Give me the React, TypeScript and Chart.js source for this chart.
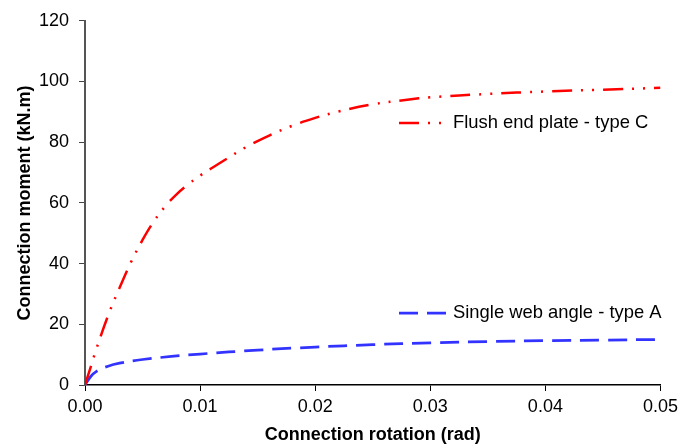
import React, { useEffect, useRef } from "react";
import { Chart, registerables } from "chart.js";

Chart.register(...registerables);

const redX = [0, 0.0005, 0.001, 0.002, 0.003, 0.004, 0.005, 0.006, 0.007, 0.008, 0.009, 0.01, 0.012, 0.014, 0.016, 0.018, 0.02, 0.022, 0.025, 0.028, 0.03, 0.035, 0.04, 0.045, 0.05];
const redY = [0, 6, 12, 22.8, 32, 40.5, 47.8, 54, 59, 63, 66.2, 69, 73.8, 78.4, 82.2, 85.4, 88, 90.1, 92.5, 94, 94.8, 95.9, 96.7, 97.3, 97.9];

const blueX = [0, 0.0005, 0.001, 0.002, 0.003, 0.005, 0.0075, 0.01, 0.015, 0.02, 0.025, 0.03, 0.035, 0.04, 0.045, 0.05];
const blueY = [0, 2.8, 4.5, 6.2, 7.2, 8.4, 9.4, 10.2, 11.5, 12.5, 13.3, 13.9, 14.3, 14.6, 14.8, 15.0];

const seriesNames = ["Flush end plate - type C", "Single web angle - type A"];
const xTitle = "Connection rotation (rad)";
const yTitle = "Connection moment (kN.m)";

const FONT = "'Liberation Sans', Arial, sans-serif";

export default function App() {
  const ref = useRef<HTMLCanvasElement>(null);
  useEffect(() => {
    document.body.style.margin = "0";
    const ctx = ref.current!;
    const redDash = [20, 9, 2, 9, 2, 9];
    const blueDash = [19, 9];
    const overlay = {
      id: "overlay",
      afterDraw(chart: any) {
        const c = chart.ctx;
        const a = chart.chartArea;
        c.save();
        c.fillStyle = "#000";
        c.font = `bold 18px ${FONT}`;
        c.textAlign = "center";
        c.textBaseline = "middle";
        c.fillText(xTitle, (a.left + a.right) / 2, 435);
        c.translate(25, (a.top + a.bottom) / 2);
        c.rotate(-Math.PI / 2);
        c.fillText(yTitle, 0, 0);
        c.restore();
        const entries = [
          { name: seriesNames[0], color: "#FF0000", dash: redDash, width: 2.5, y: 123 },
          { name: seriesNames[1], color: "#3333FF", dash: blueDash, width: 2.75, y: 313 },
        ];
        entries.forEach((e) => {
          c.save();
          c.strokeStyle = e.color;
          c.lineWidth = e.width;
          c.setLineDash(e.dash);
          c.beginPath();
          c.moveTo(399, e.y);
          c.lineTo(448, e.y);
          c.stroke();
          c.setLineDash([]);
          c.fillStyle = "#000";
          c.font = `18.4px ${FONT}`;
          c.textAlign = "left";
          c.textBaseline = "middle";
          c.fillText(e.name, 453, e.y);
          c.restore();
        });
      },
    };
    const chart = new Chart(ctx, {
      type: "line",
      data: {
        datasets: [
          {
            label: seriesNames[0],
            data: redX.map((x, i) => ({ x, y: redY[i] })),
            borderColor: "#FF0000",
            borderWidth: 2.5,
            borderDash: redDash,
            pointRadius: 0,
            tension: 0.4,
            fill: false,
          },
          {
            label: seriesNames[1],
            data: blueX.map((x, i) => ({ x, y: blueY[i] })),
            borderColor: "#3333FF",
            borderWidth: 2.75,
            borderDash: blueDash,
            pointRadius: 0,
            tension: 0.4,
            fill: false,
          },
        ],
      },
      options: {
        responsive: false,
        animation: false,
        layout: { padding: { top: 17, right: 20, left: 0, bottom: 0 } },
        plugins: { legend: { display: false }, tooltip: { enabled: false } },
        scales: {
          x: {
            type: "linear",
            min: 0,
            max: 0.05,
            afterFit: (s: any) => { s.height = 62; },
            ticks: {
              stepSize: 0.01,
              callback: (v: any) => Number(v).toFixed(2),
              color: "#000",
              font: { family: FONT, size: 18 },
              padding: 5,
              maxRotation: 0,
            },
            grid: { drawOnChartArea: false, drawTicks: true, tickLength: 6, color: "#000" },
            border: { display: true, color: "#000", width: 1.5 },
          },
          y: {
            min: 0,
            max: 120,
            afterFit: (s: any) => { s.width = 85; },
            ticks: {
              stepSize: 20,
              color: "#000",
              font: { family: FONT, size: 18 },
              padding: 10,
            },
            grid: { drawOnChartArea: false, drawTicks: true, tickLength: 6, color: "#444" },
            border: { display: true, color: "#555", width: 2 },
          },
        },
      },
      plugins: [overlay],
    });
    return () => chart.destroy();
  }, []);
  return <canvas ref={ref} width={683} height={447} style={{ display: "block" }} />;
}
